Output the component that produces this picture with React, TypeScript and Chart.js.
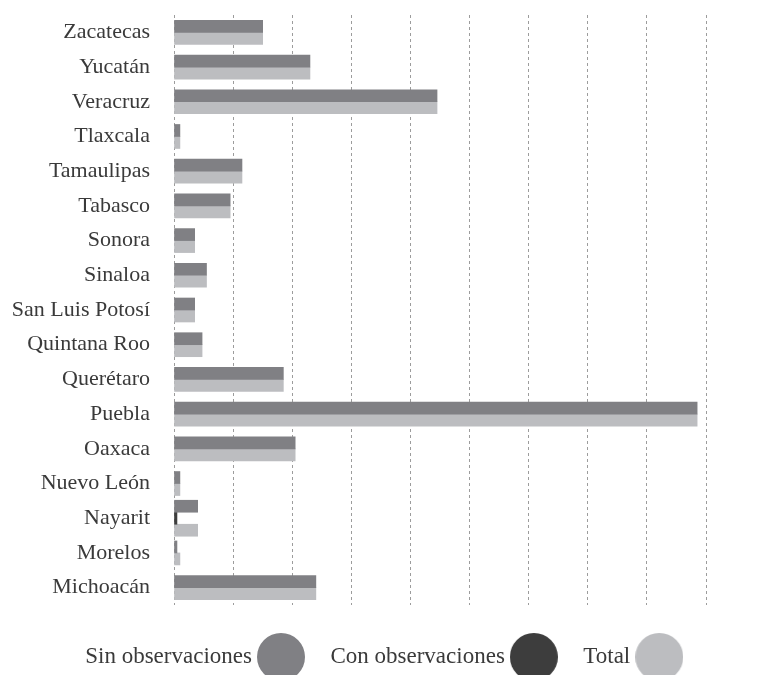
import React, { useEffect, useRef } from 'react';
import { Chart, registerables } from 'chart.js';

Chart.register(...registerables);

const categories = [
  'Zacatecas', 'Yucatán', 'Veracruz', 'Tlaxcala', 'Tamaulipas', 'Tabasco', 'Sonora',
  'Sinaloa', 'San Luis Potosí', 'Quintana Roo', 'Querétaro', 'Puebla', 'Oaxaca',
  'Nuevo León', 'Nayarit', 'Morelos', 'Michoacán',
];
const seriesNames = ['Sin observaciones', 'Con observaciones', 'Total'];
const sinObservaciones = [30, 46, 89, 2, 23, 19, 7, 11, 7, 9.5, 37, 177, 41, 2, 8, 1, 48];
const conObservaciones: (number | null)[] = [
  null, null, null, null, null, null, null, null, null, null, null, null, null, null, 1, null, null,
];
const total = [30, 46, 89, 2, 23, 19, 7, 11, 7, 9.5, 37, 177, 41, 2, 8, 2, 48];
const xMax = 180;
const xStep = 20;

const colors = ['#808084', '#3d3d3d', '#bcbdc0'];
const FONT = "'Liberation Serif', 'Times New Roman', serif";

function makeDot(color: string, d: number) {
  const c = document.createElement('canvas');
  c.width = d;
  c.height = d;
  const g = c.getContext('2d')!;
  g.fillStyle = color;
  g.beginPath();
  g.arc(d / 2, d / 2, d / 2, 0, Math.PI * 2);
  g.fill();
  return c;
}

export default function App() {
  const ref = useRef<HTMLCanvasElement | null>(null);

  useEffect(() => {
    if (!ref.current) return;
    const dots = colors.map((c) => makeDot(c, 48));
    const data = [sinObservaciones, conObservaciones, total];
    const chart = new Chart(ref.current, {
      type: 'bar',
      data: {
        labels: categories,
        datasets: seriesNames.map((name, i) => ({
          label: name,
          data: data[i] as any,
          backgroundColor: colors[i],
          borderWidth: 0,
          barThickness: 12,
          skipNull: true,
          yAxisID: 'y',
          xAxisID: 'x',
        })),
      },
      options: {
        indexAxis: 'y',
        animation: false,
        responsive: true,
        maintainAspectRatio: false,
        events: [],
        layout: { padding: { top: 15, left: 0, right: 0, bottom: 11.5 } },
        scales: {
          y: {
            type: 'category',
            position: 'left',
            grid: { display: false, drawTicks: true, tickLength: 24 },
            border: { display: false },
            ticks: {
              padding: 0,
              color: '#3a3a3a',
              font: { family: FONT, size: 22 },
            },
            afterFit: (s: any) => { s.width = 174; },
          },
          yRight: {
            type: 'category',
            position: 'right',
            grid: { display: false, drawTicks: false },
            border: { display: false },
            ticks: { display: false, padding: 0 },
            afterFit: (s: any) => { s.width = 56; },
          },
          x: {
            type: 'linear',
            position: 'bottom',
            min: 0,
            max: xMax,
            ticks: { display: false, stepSize: xStep, padding: 0 },
            grid: { color: '#9c9c9c', lineWidth: 1, drawTicks: false },
            border: { display: false, dash: [3, 3] },
            afterFit: (s: any) => { s.height = 8.5; },
          },
        },
        plugins: {
          tooltip: { enabled: false },
          legend: {
            position: 'bottom',
            rtl: true,
            labels: {
              usePointStyle: true,
              pointStyleWidth: 35,
              padding: 32,
              color: '#3a3a3a',
              font: { family: FONT, size: 23 },
              sort: (a: any, b: any) => b.datasetIndex - a.datasetIndex,
              generateLabels: (ch: any) => {
                const items = (Chart.defaults.plugins.legend.labels as any).generateLabels(ch);
                return items.map((it: any) => ({ ...it, pointStyle: dots[it.datasetIndex] }));
              },
            },
          },
        },
      },
    } as any);
    return () => chart.destroy();
  }, []);

  return (
    <div style={{ position: 'fixed', left: 0, top: 0, width: 762, height: 675, overflow: 'hidden', background: '#fff' }}>
      <div style={{ position: 'relative', width: 762, height: 690 }}>
        <canvas ref={ref} />
      </div>
    </div>
  );
}
